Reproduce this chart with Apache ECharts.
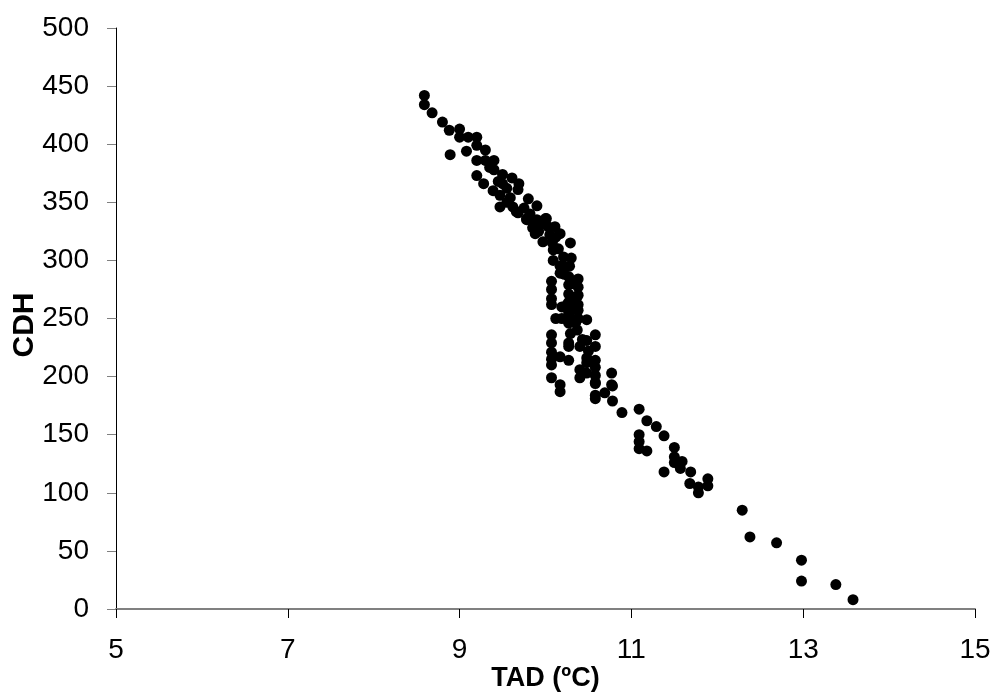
<!DOCTYPE html>
<html>
<head>
<meta charset="utf-8">
<script src="https://cdn.jsdelivr.net/npm/echarts@6/dist/echarts.min.js"></script>
<style>html,body{margin:0;padding:0;background:#fff}#c{width:995px;height:695px}</style>
</head>
<body>
<div id="c"></div>
<script>
// TAD values (ºC)
var tad = [
  8.59, 8.59, 8.68, 8.80, 8.88, 9.00, 9.00, 9.10, 9.20, 8.89, 9.08, 9.20, 9.30, 9.20, 9.40, 9.30,
  9.20, 9.28, 9.39, 9.40, 9.50, 9.61, 9.69, 9.50, 9.47, 9.59, 9.68, 9.80, 9.90, 9.78, 9.90, 10.01,
  10.11, 9.68, 9.47, 9.66, 9.78, 9.86, 10.00, 10.03, 9.88, 9.97, 10.17, 10.29, 10.09, 10.09, 10.21,
  10.30, 10.17, 10.28, 10.17, 10.07, 10.07, 10.07, 10.07, 10.27, 10.27, 10.27, 10.27, 10.38, 10.38,
  10.38, 10.38, 10.19, 10.19, 10.27, 10.38, 10.38, 10.27, 10.48, 10.37, 10.29, 10.27, 10.27, 10.58,
  10.58, 10.07, 10.07, 10.07, 10.07, 10.07, 10.17, 10.27, 10.40, 10.48, 10.48, 10.48, 10.58, 10.58,
  10.40, 10.40, 10.48, 10.58, 10.58, 10.07, 10.17, 10.17, 10.77, 10.77, 10.58, 10.69, 10.58, 10.78,
  10.58, 10.78, 10.89, 11.09, 11.18, 11.29, 11.38, 11.09, 11.09, 11.09, 11.18, 11.50, 11.50, 11.50,
  11.59, 11.57, 11.38, 11.69, 11.68, 11.78, 11.78, 11.89, 11.89, 12.29, 12.38, 12.69, 12.98, 12.98,
  13.38, 13.58,
  9.55, 9.62, 9.75, 9.82, 9.85, 9.92, 9.95, 10.05, 10.08, 10.12, 10.15, 10.20, 10.22, 10.32, 10.33,
  10.35, 10.25, 10.30, 10.12, 10.43, 10.50, 10.35, 9.35, 9.45, 9.55
];
// CDH values
var cdh = [
  442, 434, 427, 419, 412, 413, 406, 406, 406, 391, 394, 399, 395, 386, 386, 386,
  373, 366, 360, 378, 374, 371, 366, 366, 346, 354, 361, 353, 347, 335, 335, 336,
  329, 341, 356, 342, 336, 330, 336, 329, 323, 316, 323, 315, 309, 300, 303,
  302, 295, 295, 289, 282, 275, 267, 262, 286, 279, 271, 264, 284, 277,
  270, 262, 260, 250, 255, 257, 250, 246, 249, 240, 237, 229, 226, 236,
  226, 236, 229, 221, 215, 210, 217, 214, 226, 231, 216, 212, 214, 208,
  206, 199, 203, 201, 195, 199, 193, 187, 203, 193, 184, 186, 194, 192,
  181, 179, 169, 172, 162, 157, 149, 150, 144, 138, 136, 139, 131, 126,
  127, 121, 118, 118, 108, 105, 100, 112, 106, 85, 62, 57, 42, 24,
  21, 8,
  350, 346, 345, 340, 328, 325, 332, 322, 315, 320, 310, 296, 288, 280, 268,
  258, 262, 250, 250, 232, 222, 246, 380, 368, 362
];
var xTicks = [5, 7, 9, 11, 13, 15];
var yTicks = [0, 50, 100, 150, 200, 250, 300, 350, 400, 450, 500];

var points = tad.map(function (x, i) { return [x, cdh[i]]; });
var chart = echarts.init(document.getElementById('c'), null, {renderer: 'canvas'});
var font = 'Liberation Sans, Arial, sans-serif';
chart.setOption({
  animation: false,
  backgroundColor: '#ffffff',
  grid: {left: 116, right: 20, top: 28, bottom: 86, containLabel: false, outerBoundsMode: 'none'},
  xAxis: {
    type: 'value',
    min: xTicks[0], max: xTicks[xTicks.length - 1], interval: 2,
    name: 'TAD (ºC)', nameLocation: 'middle', nameGap: 56, nameMoveOverlap: false,
    nameTextStyle: {fontFamily: font, fontWeight: 'bold', fontSize: 27, color: '#000'},
    axisLine: {onZero: false, lineStyle: {color: '#808080', width: 2}},
    axisTick: {show: true, inside: false, length: 9, lineStyle: {color: '#000', width: 1}},
    axisLabel: {fontFamily: font, fontSize: 28, color: '#000', margin: 27},
    splitLine: {show: false}
  },
  yAxis: {
    type: 'value',
    min: yTicks[0], max: yTicks[yTicks.length - 1], interval: 50,
    name: 'CDH', nameLocation: 'middle', nameGap: 76, nameRotate: 90, nameMoveOverlap: false,
    nameTextStyle: {fontFamily: font, fontWeight: 'bold', fontSize: 30, color: '#000', padding: [0, 13, 0, 0]},
    axisLine: {onZero: false, lineStyle: {color: '#000', width: 1}},
    axisTick: {show: true, inside: false, length: 9, lineStyle: {color: '#808080', width: 1}},
    axisLabel: {fontFamily: font, fontSize: 28, color: '#000', margin: 27},
    splitLine: {show: false}
  },
  series: [{
    type: 'scatter',
    data: points,
    symbol: 'circle',
    symbolSize: 11,
    itemStyle: {color: '#000', opacity: 1}
  }]
});
</script>
</body>
</html>
